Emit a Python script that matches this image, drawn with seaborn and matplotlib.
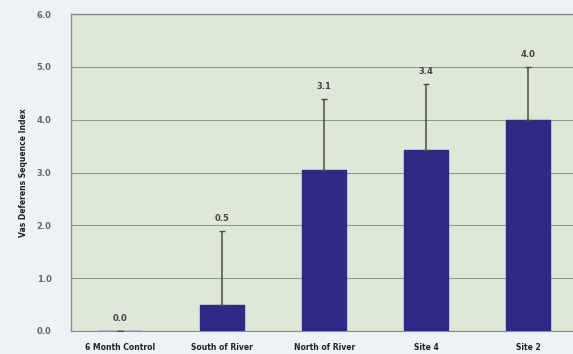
# Vas deferens sequence index bar chart

import seaborn as sns
import matplotlib.pyplot as plt

sites = ['6 Month Control', 'South of River', 'North of River', 'Site 4', 'Site 2']
index_mean = [0.0, 0.5, 3.05, 3.43, 4.0]
err_upper = [0.0, 1.4, 1.35, 1.25, 1.0]
labels = ['0.0', '0.5', '3.1', '3.4', '4.0']

sns.set_style('white')
plt.rcParams['font.family'] = ['DejaVu Sans']

fig = plt.figure(figsize=(5.73, 3.54), dpi=100, facecolor='#eef2f6')
ax = fig.add_axes([0.124, 0.065, 0.887, 0.895])
ax.set_facecolor('#dde9d6')

sns.barplot(x=sites, y=index_mean, color='#2e2a86', saturation=1, width=0.43,
            ax=ax, edgecolor='#2e2a86', zorder=3)
ax.errorbar(range(len(sites)), index_mean, yerr=[[0] * len(sites), err_upper],
            fmt='none', ecolor='#4a4a4a', elinewidth=1.1, capsize=2.5, zorder=4)

for i, lab in enumerate(labels):
    top = index_mean[i] + err_upper[i]
    ax.text(i, top + 0.15, lab, ha='center', va='bottom', fontsize=6,
            fontweight='bold', color='#444444')

ax.set_ylim(0, 6)
ax.set_xlim(-0.48, 4.5)
ax.set_yticks([0, 1, 2, 3, 4, 5, 6])
ax.set_yticklabels([f'{v:.1f}' for v in range(7)], fontsize=6,
                   fontweight='bold', color='#666666')
ax.set_xticks(range(len(sites)))
ax.set_xticklabels(sites, fontsize=5.5, fontweight='bold', color='#222222')
ax.tick_params(axis='x', length=0, pad=9)
ax.tick_params(axis='y', length=0, pad=14)
ax.grid(axis='y', color='#8e9c8b', linewidth=0.8, zorder=0)
ax.set_axisbelow(True)
ax.set_xlabel('')
ax.set_ylabel('Vas Deferens Sequence Index', fontsize=5.5, fontweight='bold',
              color='#222222', labelpad=6)
for side in ['left', 'top']:
    ax.spines[side].set_color('#8a8f8a')
    ax.spines[side].set_linewidth(1)
ax.spines['bottom'].set_color('#8a8f8a')
ax.spines['right'].set_visible(False)

plt.savefig('out.png', dpi=100, facecolor=fig.get_facecolor())
